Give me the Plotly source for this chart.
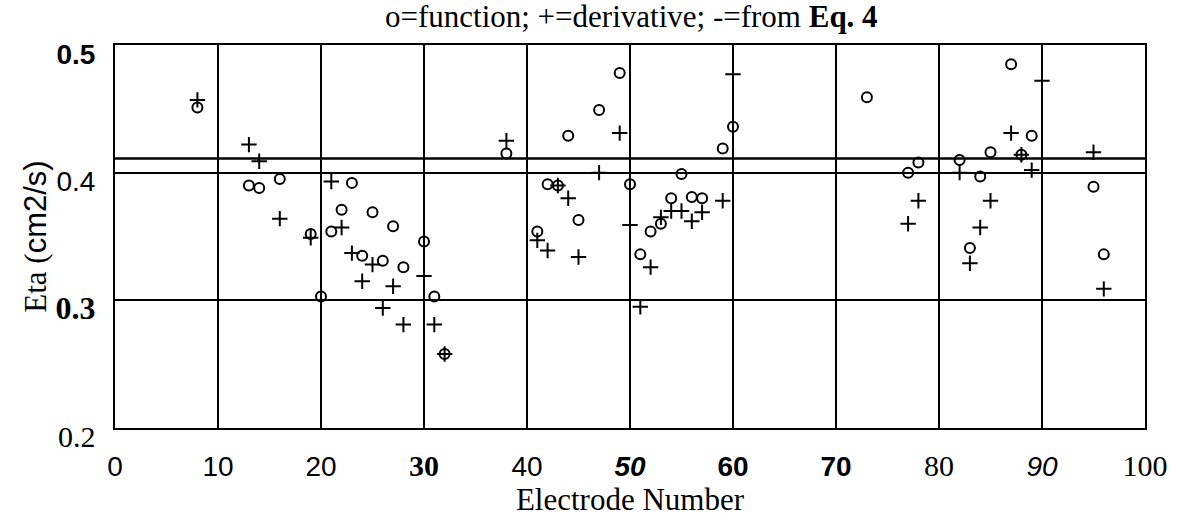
import plotly.graph_objects as go

# Electrode numbers and fitted Eta values (cm2/s)
func_x = [8, 13, 14, 16, 19, 20, 21, 22, 23, 24, 25, 26, 27, 28, 30, 31, 32,
          38, 41, 42, 43, 44, 45, 47, 49, 50, 51, 52, 53, 54, 55, 56, 57, 59, 60,
          73, 77, 78, 82, 83, 84, 85, 87, 88, 89, 95, 96]
func_y = [0.451, 0.390, 0.388, 0.395, 0.352, 0.303, 0.354, 0.371, 0.392, 0.335,
          0.369, 0.331, 0.358, 0.326, 0.346, 0.303, 0.258,
          0.415, 0.354, 0.391, 0.390, 0.429, 0.363, 0.449, 0.478, 0.391, 0.336,
          0.354, 0.360, 0.380, 0.399, 0.381, 0.380, 0.419, 0.436,
          0.459, 0.400, 0.408, 0.410, 0.341, 0.397, 0.416, 0.485, 0.414, 0.429,
          0.389, 0.336]

deriv_x = [8, 13, 14, 16, 19, 21, 22, 23, 24, 25, 26, 27, 28, 30, 31, 32,
           38, 41, 42, 43, 44, 45, 47, 49, 50, 51, 52, 53, 54, 55, 56, 57, 59, 60,
           77, 78, 82, 83, 84, 85, 87, 88, 89, 90, 95, 96]
deriv_y = [0.457, 0.422, 0.409, 0.364, 0.349, 0.393, 0.357, 0.337, 0.315, 0.328,
           0.294, 0.311, 0.281, 0.319, 0.281, 0.258,
           0.425, 0.347, 0.339, 0.390, 0.380, 0.334, 0.400, 0.431, 0.359, 0.295,
           0.326, 0.365, 0.370, 0.370, 0.362, 0.369, 0.378, 0.477,
           0.360, 0.378, 0.400, 0.329, 0.357, 0.378, 0.431, 0.414, 0.402, 0.472,
           0.416, 0.309]

# Value predicted by Eq. 4
eq4_x = [0, 100]
eq4_value = 0.411

SANS = "Liberation Sans, Arial, sans-serif"
SERIF = "Liberation Serif, Times New Roman, serif"


def lab(text, family, bold=False, italic=False, size=None):
    s = text
    if bold:
        s = f"<b>{s}</b>"
    if italic:
        s = f"<i>{s}</i>"
    style = f"font-family:{family}"
    if size:
        style += f";font-size:{size}px"
    return f'<span style="{style}">{s}</span>'


x_tickvals = [0, 10, 20, 30, 40, 50, 60, 70, 80, 90, 100]
x_ticktext = [
    lab("0", SANS), lab("10", SANS), lab("20", SANS),
    lab("30", SERIF, bold=True, size=30), lab("40", SANS),
    lab("50", SANS, bold=True, italic=True), lab("60", SANS, bold=True),
    lab("70", SANS, bold=True), lab("80", SERIF, size=30),
    lab("90", SANS, italic=True), lab("100", SERIF, size=30),
]
y_tickvals = [0.2, 0.3, 0.4, 0.5]
y_ticktext = [
    lab("0.2", SERIF, size=30), lab("0.3", SERIF, bold=True, size=32),
    lab("0.4", SANS), lab("0.5", SANS, bold=True),
]

fig = go.Figure()

fig.add_trace(go.Scatter(
    x=eq4_x, y=[eq4_value] * len(eq4_x), mode="lines",
    line=dict(color="black", width=2.5), showlegend=False, hoverinfo="skip",
))
fig.add_trace(go.Scatter(
    x=func_x, y=func_y, mode="markers", name="function",
    marker=dict(symbol="circle-open", size=10, color="black",
                line=dict(color="black", width=2)),
    showlegend=False,
))
fig.add_trace(go.Scatter(
    x=deriv_x, y=deriv_y, mode="markers", name="derivative",
    marker=dict(symbol="cross-thin-open", size=11, color="black",
                line=dict(color="black", width=2)),
    showlegend=False,
))

fig.update_layout(
    width=1180, height=519,
    margin=dict(l=115, r=33, t=45, b=87),
    paper_bgcolor="white", plot_bgcolor="white",
    font=dict(family=SANS, size=28, color="black"),
    title=dict(
        text="o=function; +=derivative; -=from <b>Eq. 4</b>",
        font=dict(family=SERIF, size=31, color="black"),
        x=0.535, xanchor="center", y=0.968, yanchor="middle",
    ),
)

fig.update_xaxes(
    range=[0, 100], tickvals=x_tickvals, ticktext=x_ticktext,
    tickfont=dict(family=SANS, size=28, color="black"),
    showgrid=True, gridcolor="black", gridwidth=1.5,
    showline=True, linecolor="black", linewidth=2, mirror=True,
    ticks="", zeroline=False, ticklabelstandoff=12,
    title=dict(text="Electrode Number", font=dict(family=SERIF, size=31),
               standoff=4),
)
fig.update_yaxes(
    range=[0.2, 0.5], tickvals=y_tickvals, ticktext=y_ticktext,
    tickfont=dict(family=SANS, size=28, color="black"),
    showgrid=True, gridcolor="black", gridwidth=1.5,
    showline=True, linecolor="black", linewidth=2, mirror=True,
    ticks="", zeroline=False, ticklabelstandoff=12, ticklabelshift=9,
    title=dict(
        text='Eta (<span style="font-family:Liberation Sans, Arial, sans-serif">cm2/s)</span>',
        font=dict(family=SERIF, size=31), standoff=0),
)

fig.write_html("out.html")
